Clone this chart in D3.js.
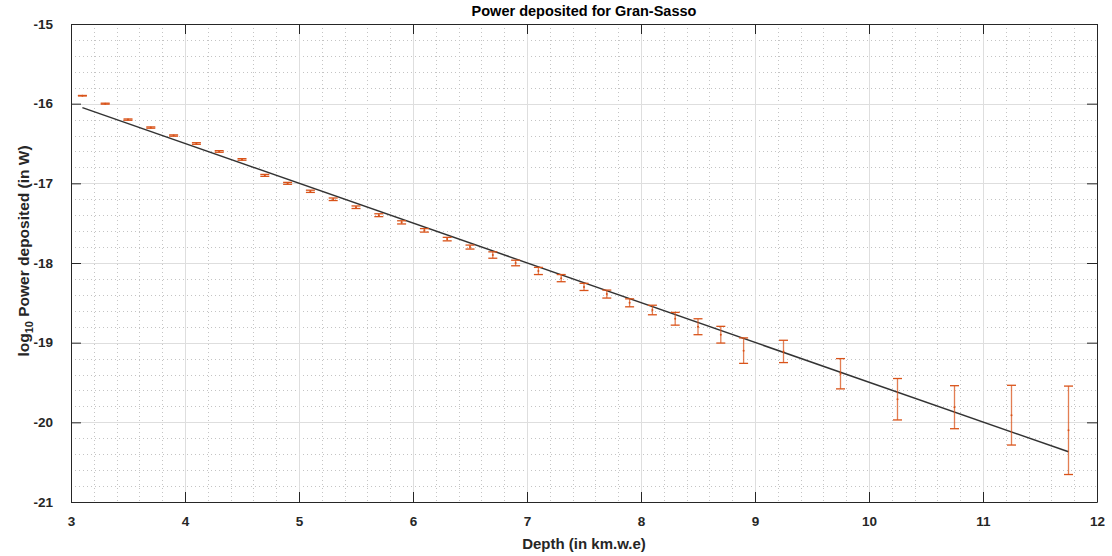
<!DOCTYPE html>
<html>
<head>
    <meta charset="utf-8">
    <title>Power deposited for Gran-Sasso</title>
    <script src="https://d3js.org/d3.v7.min.js"></script>
    <style>
        body { margin: 0; background: #fff; }
        text { font-family: "Liberation Sans", Arial, sans-serif; }
    </style>
</head>
<body>
    <div id="chart"></div>

    <script>
        // depth values (km.w.e)
        var depth = [3.1, 3.3, 3.5, 3.7, 3.9, 4.1, 4.3, 4.5, 4.7, 4.9,
                     5.1, 5.3, 5.5, 5.7, 5.9, 6.1, 6.3, 6.5, 6.7, 6.9,
                     7.1, 7.3, 7.5, 7.7, 7.9, 8.1, 8.3, 8.5, 8.7, 8.9,
                     9.25, 9.75, 10.25, 10.75, 11.25, 11.75];

        // log10 of power deposited
        var logPower = [-15.90, -16.00, -16.20, -16.30, -16.40, -16.50, -16.60, -16.70, -16.90, -17.00,
                        -17.10, -17.20, -17.30, -17.40, -17.49, -17.59, -17.70, -17.80, -17.90, -18.00,
                        -18.10, -18.19, -18.30, -18.39, -18.50, -18.59, -18.70, -18.80, -18.90, -19.10,
                        -19.11, -19.39, -19.71, -19.81, -19.91, -20.10];

        // half-length of error bars
        var err = [0.003, 0.006, 0.008, 0.008, 0.008, 0.010, 0.010, 0.010, 0.012, 0.012,
                   0.014, 0.016, 0.016, 0.018, 0.020, 0.022, 0.022, 0.025, 0.040, 0.035,
                   0.045, 0.045, 0.045, 0.050, 0.050, 0.060, 0.080, 0.100, 0.105, 0.160,
                   0.140, 0.190, 0.260, 0.270, 0.375, 0.555];

        // fitted line end points
        var fitX = [3.1, 11.75];
        var fitY = [-16.05, -20.37];

        var xTicks = [3, 4, 5, 6, 7, 8, 9, 10, 11, 12];
        var yTicks = [-21, -20, -19, -18, -17, -16, -15];

        var width = 1112, height = 556;
        var margin = { top: 24, right: 15, bottom: 54, left: 71 };
        var w = width - margin.left - margin.right;
        var h = height - margin.top - margin.bottom;

        var svg = d3.select("#chart").append("svg")
            .attr("width", width)
            .attr("height", height);

        var g = svg.append("g")
            .attr("transform", "translate(" + margin.left + "," + margin.top + ")");

        var x = d3.scaleLinear().domain([3, 12]).range([0, w]);
        var y = d3.scaleLinear().domain([-21, -15]).range([h, 0]);

        // minor grid
        var xMinor = d3.range(3, 12.001, 0.2).filter(function(v) { return Math.abs(v - Math.round(v)) > 1e-6; });
        var yMinor = d3.range(-21, -14.999, 0.2).filter(function(v) { return Math.abs(v - Math.round(v)) > 1e-6; });

        g.append("g").selectAll("line").data(xMinor).enter().append("line")
            .attr("x1", function(d) { return Math.round(x(d)) + 0.5; })
            .attr("x2", function(d) { return Math.round(x(d)) + 0.5; })
            .attr("y1", 0).attr("y2", h)
            .attr("stroke", "#c4c4c4").attr("stroke-dasharray", "1,3");

        g.append("g").selectAll("line").data(yMinor).enter().append("line")
            .attr("y1", function(d) { return Math.round(y(d)) + 0.5; })
            .attr("y2", function(d) { return Math.round(y(d)) + 0.5; })
            .attr("x1", 0).attr("x2", w)
            .attr("stroke", "#c4c4c4").attr("stroke-dasharray", "1,3");

        // major grid
        g.append("g").selectAll("line").data(xTicks).enter().append("line")
            .attr("x1", function(d) { return Math.round(x(d)) + 0.5; })
            .attr("x2", function(d) { return Math.round(x(d)) + 0.5; })
            .attr("y1", 0).attr("y2", h)
            .attr("stroke", "#dedede");

        g.append("g").selectAll("line").data(yTicks).enter().append("line")
            .attr("y1", function(d) { return Math.round(y(d)) + 0.5; })
            .attr("y2", function(d) { return Math.round(y(d)) + 0.5; })
            .attr("x1", 0).attr("x2", w)
            .attr("stroke", "#dedede");

        // fitted line
        var fit = fitX.map(function(d, i) { return [d, fitY[i]]; });
        g.append("path")
            .datum(fit)
            .attr("fill", "none")
            .attr("stroke", "#333333")
            .attr("stroke-width", 1.5)
            .attr("d", d3.line().x(function(d) { return x(d[0]); }).y(function(d) { return y(d[1]); }));

        // error bars
        var pts = depth.map(function(d, i) { return { x: d, y: logPower[i], e: err[i] }; });
        var orange = "#D95319";
        var eb = g.append("g").selectAll("g").data(pts).enter().append("g");

        eb.append("line")
            .attr("x1", function(d) { return x(d.x); })
            .attr("x2", function(d) { return x(d.x); })
            .attr("y1", function(d) { return y(d.y - d.e); })
            .attr("y2", function(d) { return y(d.y + d.e); })
            .attr("stroke", orange).attr("stroke-opacity", 0.75).attr("stroke-width", 1.3);

        eb.append("line")
            .attr("x1", function(d) { return x(d.x) - 4.5; })
            .attr("x2", function(d) { return x(d.x) + 4.5; })
            .attr("y1", function(d) { return y(d.y + d.e); })
            .attr("y2", function(d) { return y(d.y + d.e); })
            .attr("stroke", orange).attr("stroke-width", 1.3);

        eb.append("line")
            .attr("x1", function(d) { return x(d.x) - 4.5; })
            .attr("x2", function(d) { return x(d.x) + 4.5; })
            .attr("y1", function(d) { return y(d.y - d.e); })
            .attr("y2", function(d) { return y(d.y - d.e); })
            .attr("stroke", orange).attr("stroke-width", 1.3);

        eb.append("circle")
            .attr("cx", function(d) { return x(d.x); })
            .attr("cy", function(d) { return y(d.y); })
            .attr("r", 1)
            .attr("fill", orange);

        // axes (box with inward ticks)
        var axisColor = "#262626";
        var fmt = function(d) { return String(d); };

        g.append("g")
            .attr("transform", "translate(0," + h + ")")
            .call(d3.axisBottom(x).tickValues(xTicks).tickSizeInner(-10).tickSizeOuter(0).tickPadding(14).tickFormat(fmt));

        g.append("g")
            .call(d3.axisLeft(y).tickValues(yTicks).tickSizeInner(-10).tickSizeOuter(0).tickPadding(18).tickFormat(fmt));

        g.append("g")
            .call(d3.axisTop(x).tickValues(xTicks).tickSizeInner(-10).tickSizeOuter(0).tickFormat(""));

        g.append("g")
            .attr("transform", "translate(" + w + ",0)")
            .call(d3.axisRight(y).tickValues(yTicks).tickSizeInner(-10).tickSizeOuter(0).tickFormat(""));

        g.selectAll(".domain, .tick line").attr("stroke", axisColor);
        g.selectAll(".tick text")
            .attr("fill", axisColor)
            .style("font-size", "13.5px")
            .style("font-weight", "bold");

        // title and labels
        svg.append("text")
            .attr("x", margin.left + w / 2)
            .attr("y", 16)
            .attr("text-anchor", "middle")
            .style("font-size", "14.5px")
            .style("font-weight", "bold")
            .attr("fill", "#000")
            .text("Power deposited for Gran-Sasso");

        svg.append("text")
            .attr("x", margin.left + w / 2)
            .attr("y", 549)
            .attr("text-anchor", "middle")
            .style("font-size", "15px")
            .style("font-weight", "bold")
            .attr("fill", axisColor)
            .text("Depth (in km.w.e)");

        var yl = svg.append("text")
            .attr("transform", "translate(28.5,251) rotate(-90)")
            .attr("text-anchor", "middle")
            .style("font-size", "15.5px")
            .style("font-weight", "bold")
            .attr("fill", axisColor);
        yl.append("tspan").text("log");
        yl.append("tspan").attr("dy", 4).style("font-size", "11px").text("10");
        yl.append("tspan").attr("dy", -4).text(" Power deposited (in W)");
    </script>
</body>
</html>
